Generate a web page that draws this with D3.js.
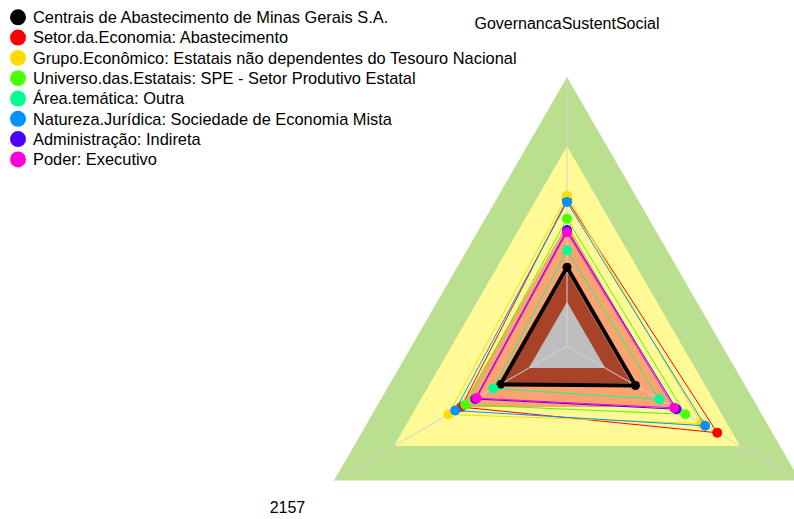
<!DOCTYPE html>
<html>
<head>
<meta charset="utf-8">
<script src="https://cdn.jsdelivr.net/npm/d3@7"></script>
<style>
    body { margin: 0; background: #ffffff; }
    svg { display: block; font-family: "Liberation Sans", Arial, sans-serif; }
</style>
</head>
<body>
<svg id="chart" width="794" height="519"></svg>
<script>
// axes of the radar, clockwise from the top
var axes = ["social", "right", "left"];
// the right-hand label lies outside the picture, so it is left blank
var axisLabels = ["GovernancaSustentSocial", "", "2157"];

var seriesNames = [
    "Centrais de Abastecimento de Minas Gerais S.A.",
    "Setor.da.Economia: Abastecimento",
    "Grupo.Econômico: Estatais não dependentes do Tesouro Nacional",
    "Universo.das.Estatais: SPE - Setor Produtivo Estatal",
    "Área.temática: Outra",
    "Natureza.Jurídica: Sociedade de Economia Mista",
    "Administração: Indireta",
    "Poder: Executivo"
];

var seriesColors = ["#000000", "#FF0000", "#FFDB00", "#49FF00", "#00FF92", "#0092FF", "#4900FF", "#FF00DB"];

// values per series, in axis order (top, right, left)
var blackVals   = [29.3, 29.4, 28.6];
var redVals     = [54.3, 64.5, 45.4];
var yellowVals  = [55.8, 57.6, 50.9];
var greenVals   = [47.3, 50.8, 43.7];
var tealVals    = [35.6, 39.6, 31.6];
var blueVals    = [53.5, 59.3, 48.0];
var purpleVals  = [43.1, 47.0, 39.4];
var magentaVals = [42.3, 46.0, 38.8];

var seriesValues = [blackVals, redVals, yellowVals, greenVals, tealVals, blueVals, purpleVals, magentaVals];

// background bands (outer edge of each band)
var bandLevels = [100, 74.3, 45.4, 27.5, 16.4];
var bandColors = ["#B9DF8F", "#FFFA96", "#FCA36F", "#A8432A", "#BEBEBE"];

var maxValue = 100;

var svg = d3.select("#chart");
var cx = 567, cy = 346, R = 269;

var rScale = d3.scaleLinear().domain([0, maxValue]).range([0, R]);
var angle = d3.scalePoint().domain(axes).range([0, 2 * Math.PI * (axes.length - 1) / axes.length]);

function pt(axis, v) {
    var a = angle(axis);
    return [cx + rScale(v) * Math.sin(a), cy - rScale(v) * Math.cos(a)];
}

var line = d3.line().curve(d3.curveLinearClosed);

// bands
svg.append("g").selectAll("path")
    .data(bandLevels)
    .enter().append("path")
    .attr("d", function (lv) {
        return line(axes.map(function (ax) { return pt(ax, lv); }));
    })
    .style("fill", function (lv, i) { return bandColors[i]; })
    .style("stroke", "none");

// spokes
svg.append("g").selectAll("line")
    .data(axes)
    .enter().append("line")
    .attr("x1", cx).attr("y1", cy)
    .attr("x2", function (ax) { return pt(ax, maxValue)[0]; })
    .attr("y2", function (ax) { return pt(ax, maxValue)[1]; })
    .style("stroke", "#D3D3D3")
    .style("stroke-width", 1);

// series
var series = svg.append("g").selectAll("g")
    .data(seriesValues)
    .enter().append("g");

series.append("path")
    .attr("d", function (vals) {
        return line(axes.map(function (ax, j) { return pt(ax, vals[j]); }));
    })
    .style("fill", "none")
    .style("stroke", function (d, i) { return seriesColors[i]; })
    .style("stroke-width", function (d, i) { return i === 0 ? 4 : 1; });

series.selectAll("circle")
    .data(function (vals, i) {
        return axes.map(function (ax, j) { return {p: pt(ax, vals[j]), c: seriesColors[i], k: i}; });
    })
    .enter().append("circle")
    .attr("cx", function (d) { return d.p[0]; })
    .attr("cy", function (d) { return d.p[1]; })
    .attr("r", function (d) { return d.k === 0 ? 4.5 : 5; })
    .style("fill", function (d) { return d.c; });

// axis labels
svg.append("g").selectAll("text")
    .data(axes)
    .enter().append("text")
    .attr("x", function (ax) { return pt(ax, maxValue * 1.2)[0]; })
    .attr("y", function (ax) { return pt(ax, maxValue * 1.2)[1]; })
    .attr("dy", "0.35em")
    .attr("text-anchor", "middle")
    .style("font-size", "16px")
    .style("fill", "#000")
    .text(function (ax, i) { return axisLabels[i]; });

// legend
var legend = svg.append("g").selectAll("g")
    .data(seriesNames)
    .enter().append("g")
    .attr("transform", function (d, i) { return "translate(18," + (17.3 + i * 20.3) + ")"; });

legend.append("circle")
    .attr("r", 8)
    .style("fill", function (d, i) { return seriesColors[i]; });

legend.append("text")
    .attr("x", 15)
    .attr("dy", "0.35em")
    .style("font-size", "16.4px")
    .style("fill", "#000")
    .text(function (d) { return d; });
</script>
</body>
</html>
